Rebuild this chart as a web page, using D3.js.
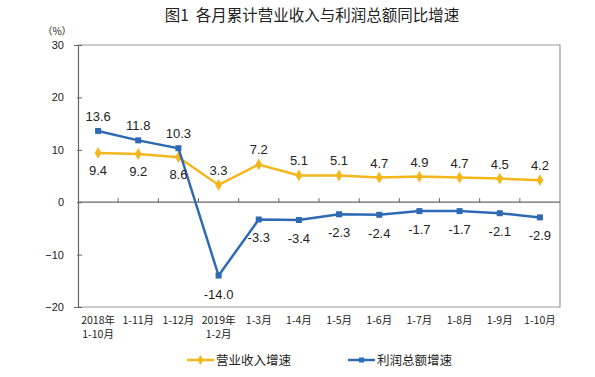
<!DOCTYPE html>
<html lang="zh">
<head>
<meta charset="UTF-8"/>
<title>图1 各月累计营业收入与利润总额同比增速</title>
<script src="https://d3js.org/d3.v7.min.js"></script>
<style>
	body { margin: 0; background: #fff; }
	text { font-family: "Liberation Sans", Arial, sans-serif; fill: #222; }
	.cjk { font-family: "Noto Sans CJK SC", sans-serif; }
</style>
</head>
<body>
<div id="chart"></div>
<script>
	// chart data
	var months = [["2018年", "1-10月"], ["1-11月"], ["1-12月"], ["2019年", "1-2月"], ["1-3月"], ["1-4月"],
		["1-5月"], ["1-6月"], ["1-7月"], ["1-8月"], ["1-9月"], ["1-10月"]];
	var revenue = [9.4, 9.2, 8.6, 3.3, 7.2, 5.1, 5.1, 4.7, 4.9, 4.7, 4.5, 4.2];
	var profit = [13.6, 11.8, 10.3, -14.0, -3.3, -3.4, -2.3, -2.4, -1.7, -1.7, -2.1, -2.9];
	var yTicks = [-20, -10, 0, 10, 20, 30];

	var w = 595, h = 377;
	var padL = 78, padR = 560, padT = 45, padB = 307;
	var yellow = "#F4B71B", blue = "#2E6AB4";

	var svg = d3.select("#chart").append("svg")
		.attr("width", w).attr("height", h);

	var idx = d3.range(months.length);
	var xScale = d3.scaleBand().domain(idx).range([padL, padR]);
	var yScale = d3.scaleLinear().domain([-20, 30]).range([padB, padT]);
	var cx = function (i) { return xScale(i) + xScale.bandwidth() / 2; };

	// title
	svg.append("text").attr("class", "cjk")
		.attr("x", 312).attr("y", 21)
		.attr("text-anchor", "middle")
		.attr("font-size", "15.5px")
		.text("图1\u00a0\u00a0各月累计营业收入与利润总额同比增速");

	// frame: top and right gray
	svg.append("path")
		.attr("d", "M" + padL + "," + padT + "H" + padR + "V" + padB + "H" + padL)
		.attr("fill", "none").attr("stroke", "#999").attr("stroke-width", 1.2);

	// y axis
	var yAxis = d3.axisLeft(yScale).tickValues(yTicks).tickSize(4).tickPadding(10);
	var gy = svg.append("g").attr("transform", "translate(" + padL + ",0)").call(yAxis);
	gy.select(".domain").attr("stroke", "#666").attr("stroke-width", 1.2);
	gy.selectAll(".tick line").attr("stroke", "#666").attr("x2", 4).attr("x1", -1);
	gy.selectAll(".tick text").attr("font-size", "11px").attr("fill", "#333")
		.attr("font-family", "'Liberation Sans', Arial, sans-serif");

	svg.append("text").attr("class", "cjk")
		.attr("x", 57).attr("y", 35).attr("text-anchor", "middle")
		.attr("font-size", "10px").attr("fill", "#444")
		.text("（%）");

	// zero line with boundary ticks pointing up
	var gx = svg.append("g").attr("transform", "translate(0," + yScale(0) + ")");
	gx.append("line").attr("x1", padL).attr("x2", padR)
		.attr("stroke", "#666").attr("stroke-width", 1.2);
	gx.selectAll("line.tk").data(idx.slice(1)).enter().append("line")
		.attr("class", "tk")
		.attr("x1", function (d) { return xScale(d); })
		.attr("x2", function (d) { return xScale(d); })
		.attr("y1", 0).attr("y2", -4)
		.attr("stroke", "#666");

	// category labels
	var lab = svg.selectAll("text.xl").data(idx).enter().append("text")
		.attr("class", "xl cjk")
		.attr("text-anchor", "middle")
		.attr("font-size", "10.5px")
		.attr("fill", "#333");
	lab.each(function (d) {
		var t = d3.select(this);
		months[d].forEach(function (s, k) {
			t.append("tspan").attr("x", cx(d)).attr("y", 324 + k * 14).text(s);
		});
	});

	var line = d3.line().x(function (d, i) { return cx(i); }).y(function (d) { return yScale(d); });

	// revenue series
	svg.append("path").datum(revenue).attr("d", line)
		.attr("fill", "none").attr("stroke", yellow).attr("stroke-width", 2.5);
	svg.selectAll("path.dia").data(revenue).enter().append("path")
		.attr("class", "dia")
		.attr("d", d3.symbol().type(d3.symbolDiamond).size(40))
		.attr("transform", function (d, i) { return "translate(" + cx(i) + "," + yScale(d) + ")"; })
		.attr("fill", yellow);

	// profit series
	svg.append("path").datum(profit).attr("d", line)
		.attr("fill", "none").attr("stroke", blue).attr("stroke-width", 2.5);
	svg.selectAll("rect.sq").data(profit).enter().append("rect")
		.attr("class", "sq")
		.attr("x", function (d, i) { return cx(i) - 3; })
		.attr("y", function (d) { return yScale(d) - 3; })
		.attr("width", 6).attr("height", 6)
		.attr("fill", blue);

	// value labels
	svg.selectAll("text.rv").data(revenue).enter().append("text")
		.attr("class", "rv")
		.attr("x", function (d, i) { return cx(i); })
		.attr("y", function (d, i) { return i < 3 ? yScale(d) + 22 : yScale(d) - 10; })
		.attr("text-anchor", "middle").attr("font-size", "13px")
		.text(function (d) { return d.toFixed(1); });

	svg.selectAll("text.pv").data(profit).enter().append("text")
		.attr("class", "pv")
		.attr("x", function (d, i) { return cx(i); })
		.attr("y", function (d, i) { return i < 3 ? yScale(d) - 10 : yScale(d) + 23; })
		.attr("text-anchor", "middle").attr("font-size", "13px")
		.text(function (d) { return d.toFixed(1); });

	// legend
	var legend = [["营业收入增速", yellow, 187], ["利润总额增速", blue, 348]];
	legend.forEach(function (l, k) {
		var g = svg.append("g").attr("transform", "translate(" + l[2] + ",360)");
		g.append("line").attr("x1", 0).attr("x2", 27).attr("stroke", l[1]).attr("stroke-width", 2.5);
		if (k === 0) {
			g.append("path").attr("d", d3.symbol().type(d3.symbolDiamond).size(30))
				.attr("transform", "translate(13.5,0)").attr("fill", l[1]);
		} else {
			g.append("rect").attr("x", 11).attr("y", -2.5).attr("width", 5).attr("height", 5).attr("fill", l[1]);
		}
		g.append("text").attr("class", "cjk")
			.attr("x", 29).attr("y", 4.5)
			.attr("font-size", "12.5px").attr("fill", "#333")
			.text(l[0]);
	});
</script>
</body>
</html>
